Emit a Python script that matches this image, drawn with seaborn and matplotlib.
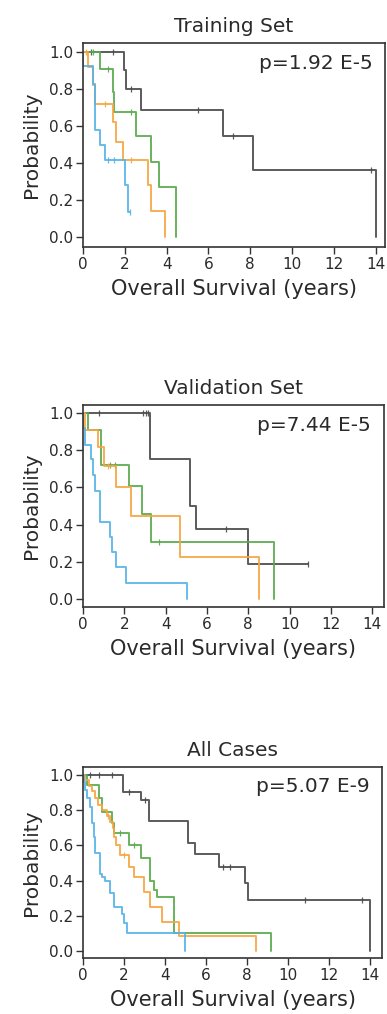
import numpy as np
import seaborn as sns
import matplotlib
matplotlib.use("Agg")
import matplotlib.pyplot as plt

# ---- data (years, survival probability after each drop) ----
panel_titles = ["Training Set", "Validation Set", "All Cases"]
p_values = ["p=1.92 E-5", "p=7.44 E-5", "p=5.07 E-9"]
x_ticks = [0, 2, 4, 6, 8, 10, 12, 14]
y_ticks = [0.0, 0.2, 0.4, 0.6, 0.8, 1.0]

# Training set
train_black_t = [1.95, 2.07, 2.78, 6.7, 8.13, 14.03]
train_black_s = [0.905, 0.80, 0.685, 0.545, 0.365, 0.0]
train_black_c = [0.4, 1.42, 2.3, 5.5, 7.2, 13.76]
train_green_t = [0.8, 1.44, 1.5, 2.55, 3.27, 3.64, 4.47]
train_green_s = [0.91, 0.785, 0.675, 0.545, 0.405, 0.27, 0.0]
train_green_c = [0.48, 1.2, 2.3]
train_orange_t = [0.24, 0.48, 0.56, 1.44, 1.56, 1.91, 3.11, 3.27, 3.91]
train_orange_s = [0.92, 0.82, 0.72, 0.62, 0.515, 0.415, 0.28, 0.14, 0.0]
train_orange_c = [0.13, 1.04, 2.3]
train_blue_t = [0.02, 0.48, 0.56, 0.8, 1.04, 2.0, 2.15]
train_blue_s = [0.925, 0.83, 0.58, 0.497, 0.416, 0.28, 0.137]
train_blue_c = [1.2, 1.5, 2.25]

# Validation set
valid_black_t = [3.23, 5.16, 5.46, 8.0]
valid_black_s = [0.75, 0.5, 0.378, 0.19]
valid_black_c = [0.76, 2.92, 3.03, 3.13, 6.93, 10.9]
valid_green_t = [0.22, 0.86, 2.21, 2.85, 3.3, 9.23]
valid_green_s = [0.91, 0.72, 0.605, 0.457, 0.305, 0.0]
valid_green_c = [1.3, 1.55, 3.66]
valid_orange_t = [0.11, 0.71, 1.03, 1.61, 2.32, 4.68, 8.5]
valid_orange_s = [0.91, 0.816, 0.713, 0.604, 0.446, 0.226, 0.0]
valid_orange_c = [1.2]
valid_blue_t = [0.02, 0.11, 0.39, 0.5, 0.6, 0.84, 1.32, 1.4, 1.61, 2.08, 5.03]
valid_blue_s = [0.92, 0.83, 0.75, 0.665, 0.58, 0.415, 0.335, 0.255, 0.17, 0.085, 0.0]
valid_blue_c = []

# All cases
all_black_t = [1.95, 2.85, 3.2, 5.12, 5.45, 6.65, 7.9, 8.05, 14.0]
all_black_s = [0.905, 0.858, 0.737, 0.615, 0.553, 0.48, 0.385, 0.29, 0.0]
all_black_c = [0.36, 0.76, 1.41, 2.22, 3.0, 6.85, 7.18, 10.83, 13.59]
all_green_t = [0.2, 0.8, 0.92, 1.4, 1.5, 2.22, 2.84, 3.25, 3.45, 3.62, 4.46, 9.16]
all_green_s = [0.945, 0.87, 0.79, 0.73, 0.67, 0.605, 0.53, 0.40, 0.345, 0.305, 0.104, 0.0]
all_green_c = [1.8, 2.5]
all_orange_t = [0.1, 0.3, 0.45, 0.6, 0.75, 0.95, 1.15, 1.3, 1.45, 1.5, 1.6, 1.82,
                2.22, 2.47, 2.96, 3.25, 3.85, 4.7, 8.43]
all_orange_s = [0.97, 0.94, 0.91, 0.87, 0.83, 0.80, 0.77, 0.735, 0.70, 0.65, 0.60, 0.545,
                0.48, 0.42, 0.337, 0.25, 0.167, 0.087, 0.0]
all_orange_c = [1.2, 2.0]
all_blue_t = [0.03, 0.11, 0.2, 0.32, 0.44, 0.52, 0.6, 0.81, 0.95, 1.09, 1.33, 1.49,
              1.9, 2.0, 2.14, 4.98]
all_blue_s = [0.96, 0.915, 0.87, 0.82, 0.725, 0.65, 0.56, 0.44, 0.42, 0.40, 0.33, 0.25,
              0.21, 0.157, 0.104, 0.0]
all_blue_c = []

colors = {"black": "#4a4a4a", "green": "#58aa4c", "orange": "#f6a542", "blue": "#56b3e8"}

panels = [
    [("black", train_black_t, train_black_s, train_black_c),
     ("green", train_green_t, train_green_s, train_green_c),
     ("orange", train_orange_t, train_orange_s, train_orange_c),
     ("blue", train_blue_t, train_blue_s, train_blue_c)],
    [("black", valid_black_t, valid_black_s, valid_black_c),
     ("green", valid_green_t, valid_green_s, valid_green_c),
     ("orange", valid_orange_t, valid_orange_s, valid_orange_c),
     ("blue", valid_blue_t, valid_blue_s, valid_blue_c)],
    [("black", all_black_t, all_black_s, all_black_c),
     ("green", all_green_t, all_green_s, all_green_c),
     ("orange", all_orange_t, all_orange_s, all_orange_c),
     ("blue", all_blue_t, all_blue_s, all_blue_c)],
]

# axes boxes in figure fractions and limits per panel
boxes = [[0.2145, 0.7564, 0.7804, 0.2012],
         [0.2145, 0.4014, 0.7767, 0.1992],
         [0.2145, 0.0549, 0.7726, 0.1884]]
xlims = [(0, 14.45), (0, 14.55), (0, 14.58)]
ylims = [(-0.054, 1.049), (-0.043, 1.043), (-0.041, 1.044)]

sns.set_style("ticks")
plt.rcParams["font.family"] = ["DejaVu Sans"]

fig = plt.figure(figsize=(3.87, 10.14), dpi=100)
txt = "#2a2a2a"

for i, curves in enumerate(panels):
    ax = fig.add_axes(boxes[i])
    for name, t, s, cens in curves:
        end = t[-1] if s[-1] == 0 else max(cens[-1] if cens else t[-1], t[-1])
        xs = [0] + list(t) + [end]
        ys = [1.0] + list(s) + [s[-1]]
        sns.lineplot(x=xs, y=ys, ax=ax, drawstyle="steps-post", estimator=None,
                     sort=False, color=colors[name], linewidth=1.4, alpha=0.9)
        if cens:
            idx = np.searchsorted(np.array(t), np.array(cens), side="right")
            lv = np.array([1.0] + list(s))[idx]
            ax.plot(cens, lv, linestyle="none", marker="|", markersize=5,
                    markeredgewidth=0.9, color=colors[name], alpha=0.9)

    ax.set_xlim(*xlims[i])
    ax.set_ylim(*ylims[i])
    ax.set_xticks(x_ticks)
    ax.set_yticks(y_ticks)
    ax.set_yticklabels([f"{v:.1f}" for v in y_ticks])
    ax.tick_params(axis="both", length=5, width=1, color="#333333",
                   labelsize=11, labelcolor=txt, pad=2)
    for sp in ax.spines.values():
        sp.set_visible(True)
        sp.set_color("#333333")
        sp.set_linewidth(1.2)
    ax.set_title(panel_titles[i], fontsize=14.5, color=txt, pad=8)
    ax.set_xlabel("Overall Survival (years)", fontsize=15, color=txt, labelpad=5)
    ax.set_ylabel("Probability", fontsize=14.5, color=txt, labelpad=6)
    ax.text(0.958, 0.9, p_values[i], transform=ax.transAxes, ha="right",
            va="center", fontsize=14.5, color=txt)

fig.savefig("out.png", dpi=100, facecolor="white")
